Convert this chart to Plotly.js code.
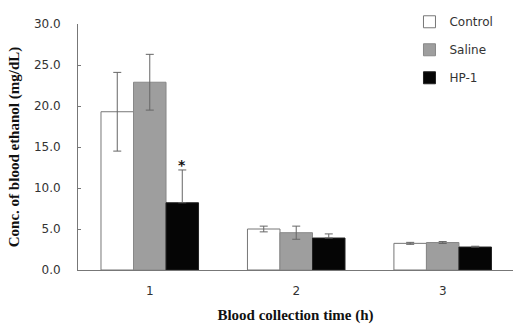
<!DOCTYPE html>
<html><head><meta charset="utf-8">
<script src="https://cdn.plot.ly/plotly-3.0.1.min.js"></script>
<style>html,body{margin:0;padding:0;background:#fff}</style>
</head><body><div id="chart" style="width:513px;height:324px"></div>
<script>
const times = [1, 2, 3];
const timeLabels = ["1", "2", "3"];
const controlMean = [19.3, 5.0, 3.25];
const controlErr = [4.8, 0.35, 0.12];
const salineMean = [22.9, 4.55, 3.35];
const salineErr = [3.4, 0.8, 0.12];
const hp1Mean = [8.2, 3.9, 2.8];
const hp1Err = [4.0, 0.5, 0.1];
const hp1ErrMinus = [0, 0, 0];
const yTicks = [0, 5, 10, 15, 20, 25, 30];

const errStyle = (arr, minus) => {
  const e = {type: 'data', array: arr, visible: true, color: '#666', thickness: 1, width: 4};
  if (minus) { e.symmetric = false; e.arrayminus = minus; }
  return e;
};
const traces = [
  {type: 'bar', name: 'Control', x: times, y: controlMean, error_y: errStyle(controlErr),
   marker: {color: '#ffffff', line: {color: '#777', width: 1}}, legendgroup: 'a'},
  {type: 'bar', name: 'Saline', x: times, y: salineMean, error_y: errStyle(salineErr),
   marker: {color: '#9e9e9e', line: {color: '#888', width: 1}}, legendgroup: 'b'},
  {type: 'bar', name: 'HP-1', x: times, y: hp1Mean, error_y: errStyle(hp1Err, hp1ErrMinus),
   marker: {color: '#050505', line: {color: '#222', width: 1}}, legendgroup: 'c'}
];
const layout = {
  width: 513, height: 324,
  margin: {l: 78, r: 0, t: 24, b: 54},
  paper_bgcolor: '#fff', plot_bgcolor: '#fff',
  barmode: 'group', bargap: 0.334, bargroupgap: 0,
  font: {family: 'DejaVu Sans', size: 12, color: '#333'},
  xaxis: {range: [0.51, 3.48], tickvals: times, ticktext: timeLabels, showline: true, linecolor: '#777',
    linewidth: 1, ticks: '', showgrid: false, zeroline: false, ticklabelstandoff: 10,
    title: {text: 'Blood collection time (h)', font: {family: 'Liberation Serif', size: 15, color: '#111', weight: 'bold'}, standoff: 14}},
  yaxis: {range: [0, 30], tickvals: yTicks, tickformat: '.1f', showline: true, linecolor: '#777', linewidth: 1,
    ticks: 'inside', ticklen: 3, tickcolor: '#777', showgrid: false, zeroline: false, ticklabelstandoff: 14,
    title: {text: 'Conc. of blood ethanol (mg/dL)', font: {family: 'Liberation Serif', size: 15, color: '#111', weight: 'bold'}, standoff: 10}},
  legend: {x: 0.762, y: 1.068, xanchor: 'left', yanchor: 'top', tracegroupgap: 9,
    font: {family: 'DejaVu Sans', size: 12, color: '#333'}, bgcolor: 'rgba(0,0,0,0)'},
  annotations: [{x: 1.222, y: 12.8, xref: 'x', yref: 'y', text: '<b>*</b>', showarrow: false,
    font: {family: 'DejaVu Sans', size: 14, color: '#111'}}],
  showlegend: true
};
Plotly.newPlot('chart', traces, layout, {staticPlot: true});
</script></body></html>
